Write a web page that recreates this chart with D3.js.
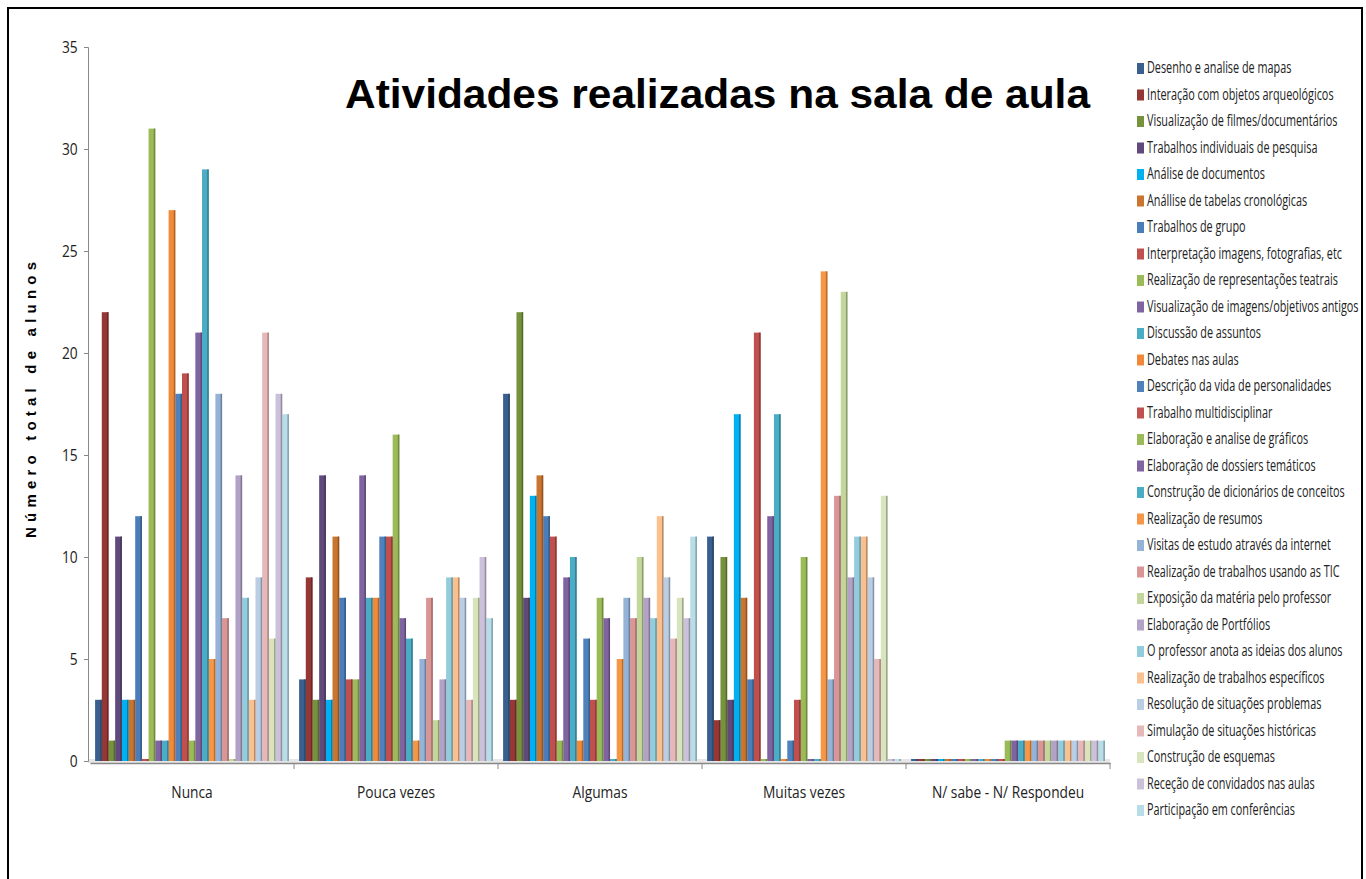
<!DOCTYPE html>
<html><head><meta charset="utf-8">
<script src="https://cdn.jsdelivr.net/npm/d3@7"></script>
<style>
html,body{margin:0;padding:0;background:#fff;}
svg{display:block;}
</style></head>
<body><svg id="c" width="1366" height="879"></svg>
<script>
const categories = ["Nunca","Pouca vezes","Algumas","Muitas vezes","N/ sabe - N/ Respondeu"];
const seriesNames = [
"Desenho e analise de mapas","Interação com objetos arqueológicos","Visualização de filmes/documentários",
"Trabalhos individuais de pesquisa","Análise de documentos","Anállise de tabelas cronológicas",
"Trabalhos de grupo","Interpretação imagens, fotografias, etc","Realização de representações teatrais",
"Visualização de imagens/objetivos antigos","Discussão de assuntos","Debates nas aulas",
"Descrição da vida de personalidades","Trabalho multidisciplinar","Elaboração e analise de gráficos",
"Elaboração de dossiers temáticos","Construção de dicionários de conceitos","Realização de resumos",
"Visitas de estudo através da internet","Realização de trabalhos usando as TIC","Exposição da matéria pelo professor",
"Elaboração de Portfólios","O professor anota as ideias dos alunos","Realização de trabalhos específicos",
"Resolução de situações problemas","Simulação de situações históricas","Construção de esquemas",
"Receção de convidados nas aulas","Participação em conferências"];
const seriesColors = ["#3A5F8F","#953735","#76923C","#5F4A7B","#00B0F0","#C9742F","#4A7DBA","#C0504D",
"#9BBB59","#8064A2","#4BACC6","#F0893A","#4F81BD","#C0504D","#9BBB59","#8064A2","#4BACC6","#F79646",
"#95B3D7","#D99694","#C3D69B","#B3A2C7","#93CDDD","#FAC090","#B9CDE5","#E6B9B8","#D7E4BD","#CCC1DA","#B7DEE8"];

const valsNunca  = [3,22,1,11,3,3,12,0,31,1,1,27,18,19,1,21,29,5,18,7,0,14,8,3,9,21,6,18,17];
const valsPouca  = [4,9,3,14,3,11,8,4,4,14,8,8,11,11,16,7,6,1,5,8,2,4,9,9,8,3,8,10,7];
const valsAlgumas= [18,3,22,8,13,14,12,11,1,9,10,1,6,3,8,7,0,5,8,7,10,8,7,12,9,6,8,7,11];
const valsMuitas = [11,2,10,3,17,8,4,21,0,12,17,0,1,3,10,0,0,24,4,13,23,9,11,11,9,5,13,0,0];
const valsNS     = [0,0,0,0,0,0,0,0,0,0,0,0,0,0,1,1,1,1,1,1,1,1,1,1,1,1,1,1,1];
const yTicks = [0,5,10,15,20,25,30,35];
const title = "Atividades realizadas na sala de aula";
const yTitle = "Número total de alunos";

const allVals = [valsNunca,valsPouca,valsAlgumas,valsMuitas,valsNS];
const svg = d3.select("#c");
const font = "'Open Sans','Liberation Sans',sans-serif";
const squeeze = "scale(0.86,1)";

// frame
svg.append("rect").attr("x",8).attr("y",8).attr("width",1354).attr("height",900)
  .attr("fill","none").attr("stroke","#000").attr("stroke-width",2);

const y = d3.scaleLinear().domain([0,35]).range([761,47]);
const x0 = d3.scaleBand().domain(categories).range([90,1110]).paddingInner(0.05).paddingOuter(0.025);
const x1 = d3.scaleBand().domain(seriesNames).range([0,x0.bandwidth()]);
const color = d3.scaleOrdinal().domain(seriesNames).range(seriesColors);

// floor
svg.append("rect").attr("x",88).attr("y",759).attr("width",1022).attr("height",4).attr("fill","#e6e6e6");

// bars
const groups = svg.append("g").selectAll("g").data(categories).join("g")
  .attr("transform",d=>`translate(${x0(d)},0)`);
groups.each(function(cat,ci){
  const data = seriesNames.map((s,i)=>({s, v: allVals[ci][i]}));
  const g = d3.select(this);
  g.selectAll("rect.b").data(data).join("rect").attr("class","b")
    .attr("x",d=>x1(d.s)).attr("width",x1.bandwidth())
    .attr("y",d=>Math.min(y(d.v), y(0)-2)).attr("height",d=>Math.max(y(0)-y(d.v),2))
    .attr("fill",d=>color(d.s));
  g.selectAll("rect.e").data(data).join("rect").attr("class","e")
    .attr("x",d=>x1(d.s)+x1.bandwidth()-1.5).attr("width",1.5)
    .attr("y",d=>Math.min(y(d.v), y(0)-2)).attr("height",d=>Math.max(y(0)-y(d.v),2))
    .attr("fill",d=>d3.color(color(d.s)).darker(0.9));
});

// y axis
const ya = svg.append("g").attr("transform","translate(88,0)")
  .call(d3.axisLeft(y).tickValues(yTicks).tickSize(4).tickPadding(8));
ya.select(".domain").attr("stroke","#888");
ya.selectAll(".tick line").attr("stroke","#888");
ya.selectAll(".tick text").attr("font-family",font).attr("font-size",16).attr("fill","#222")
  .attr("transform",squeeze);

// x axis
const xa = svg.append("g").attr("transform","translate(0,763)")
  .call(d3.axisBottom(x0).tickSize(0).tickPadding(24));
xa.select(".domain").attr("stroke","#888").attr("stroke-width",1.5);
xa.selectAll(".tick text").attr("font-family",font).attr("font-size",16).attr("fill","#222")
  .attr("transform",squeeze);
svg.append("g").selectAll("line").data(categories).join("line")
  .attr("x1",d=>x0(d)+x0.bandwidth()+x0.step()*x0.paddingInner()/2)
  .attr("x2",d=>x0(d)+x0.bandwidth()+x0.step()*x0.paddingInner()/2)
  .attr("y1",763).attr("y2",769).attr("stroke","#888");

// title
svg.append("text").attr("x",345).attr("y",108).text(title)
  .attr("font-family","'Liberation Sans',Arial,sans-serif").attr("font-weight","bold")
  .attr("font-size",40).attr("textLength",745).attr("lengthAdjust","spacingAndGlyphs").attr("fill","#000");

// y title
svg.append("text").attr("transform","translate(36,400) rotate(-90)").attr("text-anchor","middle")
  .text(yTitle).attr("font-family","'Liberation Sans',Arial,sans-serif").attr("font-weight","bold")
  .attr("font-size",15).attr("textLength",276).attr("lengthAdjust","spacing");

// legend
const leg = svg.append("g").selectAll("g").data(seriesNames).join("g")
  .attr("transform",(d,i)=>`translate(1137,${68 + i*26.5})`);
leg.append("rect").attr("x",0).attr("y",-5).attr("width",7).attr("height",11).attr("fill",d=>color(d));
leg.append("g").attr("transform","translate(10,0) scale(0.7,1)")
  .append("text").attr("x",0).attr("y",0).attr("dy","0.35em").text(d=>d)
  .attr("font-family",font).attr("font-size",15.5).attr("fill","#222");
</script></body></html>
